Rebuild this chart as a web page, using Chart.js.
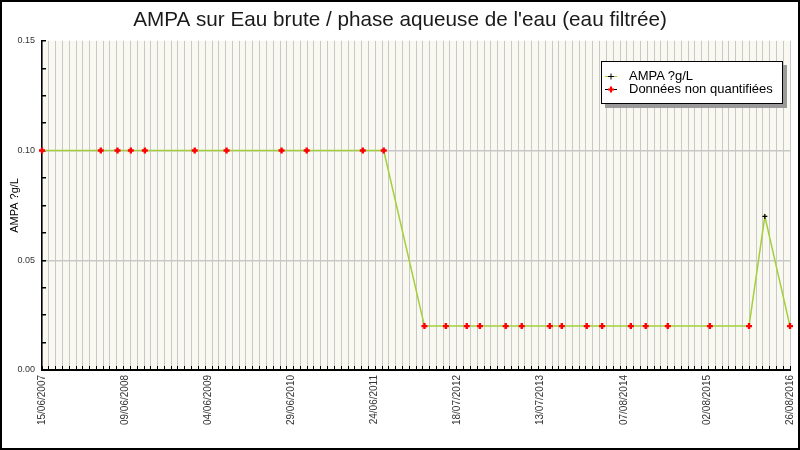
<!DOCTYPE html>
<html lang="fr">
<head>
<meta charset="utf-8">
<title>AMPA sur Eau brute</title>
<script src="https://cdn.jsdelivr.net/npm/chart.js@4/dist/chart.umd.min.js"></script>
<style>
  html, body { margin: 0; padding: 0; background: #fff; }
  #wrap { position: relative; width: 800px; height: 450px; }
  #legend {
    position: absolute; left: 601px; top: 61px; width: 180px; height: 40px;
    border: 1px solid #000; background: #fff; box-shadow: 4px 4px 0 #9a9a9a;
    font: 13px "Liberation Sans", sans-serif; color: #000; padding-top: 1px; box-sizing: content-box;
  }
  #legend div { height: 13px; line-height: 13px; margin-left: 3px; white-space: nowrap; }
  #legend div:first-child { margin-top: 6px; }
  #legend svg { vertical-align: -1px; margin-right: 12px; }
</style>
</head>
<body>
<div id="wrap">
  <canvas id="chart" width="800" height="450"></canvas>
  <div id="legend"></div>
</div>
<script>
// sampling dates and AMPA values
const sampleDates = [
  '2007-06-15','2008-03-05','2008-05-19','2008-07-18','2008-09-19','2009-05-01','2009-09-21',
  '2010-05-26','2010-09-16','2011-05-26','2011-08-28',
  '2012-02-27','2012-06-02','2012-09-04','2012-11-02','2013-02-26','2013-05-09','2013-09-12',
  '2013-11-05','2014-02-25','2014-05-05','2014-09-11','2014-11-17','2015-02-24','2015-09-01',
  '2016-02-24','2016-05-05','2016-08-26'
];
const ampaValues = [
  0.10, 0.10, 0.10, 0.10, 0.10, 0.10, 0.10,
  0.10, 0.10, 0.10, 0.10,
  0.02, 0.02, 0.02, 0.02, 0.02, 0.02, 0.02,
  0.02, 0.02, 0.02, 0.02, 0.02, 0.02, 0.02,
  0.02, 0.07, 0.02
];
// false = "Données non quantifiées"
const quantified = [
  false, false, false, false, false, false, false,
  false, false, false, false,
  false, false, false, false, false, false, false,
  false, false, false, false, false, false, false,
  false, true, false
];

const xTickLabels = ['15/06/2007','09/06/2008','04/06/2009','29/06/2010','24/06/2011',
                     '18/07/2012','13/07/2013','07/08/2014','02/08/2015','26/08/2016'];
const yTickLabels = ['0.00','0.05','0.10','0.15'];
const Y_MINOR = 4;        // minor ticks per labelled step
const X_GRID_STEPS = 110; // vertical grid lines

const GREEN = '#a3cf3a';
const RED = '#ff0000';

const toUTC = s => {
  const p = s.includes('/') ? s.split('/').reverse() : s.split('-');
  return Date.UTC(+p[0], +p[1] - 1, +p[2]);
};
const t0 = toUTC(xTickLabels[0]);
const span = (toUTC(xTickLabels[xTickLabels.length - 1]) - t0) / 86400000;
const dayOf = s => (toUTC(s) - t0) / 86400000;

const allPoints = sampleDates.map((d, i) => ({ x: dayOf(d), y: ampaValues[i] }));
const nqPoints = allPoints.filter((p, i) => !quantified[i]);

// x ticks: grid every X_GRID_STEPS, labels evenly spread
const xTicks = [];
for (let i = 0; i <= X_GRID_STEPS; i++) xTicks.push({ value: span * i / X_GRID_STEPS, grid: true });
xTickLabels.forEach((lab, i) => xTicks.push({ value: span * i / (xTickLabels.length - 1), lab }));
xTicks.sort((a, b) => a.value - b.value);

// y ticks: labelled ones plus minor ones between
const yVals = yTickLabels.map(Number);
const yMax = yVals[yVals.length - 1];
const yTicks = [];
yVals.forEach((v, i) => {
  yTicks.push({ value: v, lab: yTickLabels[i], big: true });
  if (i < yVals.length - 1) {
    for (let k = 1; k < Y_MINOR; k++) yTicks.push({ value: v + (yVals[i + 1] - v) * k / Y_MINOR });
  }
});
yTicks.sort((a, b) => a.value - b.value);

Chart.defaults.font.family = '"Liberation Sans", sans-serif';

const chart = new Chart(document.getElementById('chart'), {
  type: 'line',
  data: {
    datasets: [{
      label: 'AMPA ?g/L',
      data: allPoints,
      borderColor: GREEN,
      borderWidth: 1.5,
      tension: 0,
      pointStyle: 'cross',
      pointRadius: c => quantified[c.dataIndex] ? 2.5 : 0,
      pointBorderColor: '#000',
      pointBorderWidth: 1.2,
      clip: false,
      order: 2
    }, {
      label: 'Données non quantifiées',
      data: nqPoints,
      showLine: false,
      borderColor: '#000',
      pointStyle: 'cross',
      pointRadius: 3,
      pointBorderWidth: 2.4,
      pointBorderColor: RED,
      pointBackgroundColor: RED,
      clip: false,
      order: 1
    }]
  },
  options: {
    responsive: false,
    animation: false,
    layout: { padding: 0 },
    scales: {
      x: {
        type: 'linear',
        min: 0,
        max: span,
        afterBuildTicks: s => { s.ticks = xTicks.map(t => ({ ...t })); },
        afterFit: s => { s.height = 80; s.paddingLeft = 0; s.paddingRight = 10; },
        border: { color: '#000', width: 2 },
        grid: {
          color: c => c.tick && c.tick.grid ? '#c8c8c8' : 'transparent',
          tickColor: c => c.tick && c.tick.grid ? '#000' : 'transparent',
          tickLength: -4,
          lineWidth: 1
        },
        ticks: {
          autoSkip: false,
          minRotation: 90,
          maxRotation: 90,
          padding: 9,
          color: '#333',
          font: { size: 10 },
          callback: (v, i, t) => t[i].lab || ''
        }
      },
      y: {
        type: 'linear',
        min: 0,
        max: yMax,
        afterBuildTicks: s => { s.ticks = yTicks.map(t => ({ ...t })); },
        afterFit: s => { s.width = 42; s.paddingTop = 0; s.paddingBottom = 0; },
        border: { color: '#000', width: 1.5 },
        grid: {
          color: c => c.tick && c.tick.big && c.tick.value > 0 && c.tick.value < yMax ? '#c8c8c8' : 'transparent',
          tickColor: '#000',
          tickLength: -4,
          lineWidth: 1.5
        },
        ticks: {
          padding: 11,
          color: '#333',
          font: { size: 9 },
          callback: (v, i, t) => t[i].lab || ''
        },
        title: {
          display: true,
          text: 'AMPA ?g/L',
          color: '#000',
          font: { size: 11 },
          padding: { top: 8, bottom: 0 }
        }
      }
    },
    plugins: {
      legend: { display: false },
      tooltip: { enabled: false },
      title: {
        display: true,
        text: "AMPA sur Eau brute / phase aqueuse de l'eau (eau filtrée)",
        color: '#1a1a1a',
        font: { size: 20.7, weight: 'normal' },
        padding: { top: 8, bottom: 8 }
      }
    }
  },
  plugins: [{
    id: 'frameAndBackground',
    beforeDraw: c => {
      const ctx = c.ctx, a = c.chartArea;
      ctx.save();
      ctx.fillStyle = '#fff';
      ctx.fillRect(0, 0, c.width, c.height);
      ctx.fillStyle = '#f9f9f1';
      ctx.fillRect(a.left, a.top, a.right - a.left, a.bottom - a.top);
      ctx.restore();
    },
    afterDraw: c => {
      const ctx = c.ctx;
      ctx.save();
      ctx.strokeStyle = '#000';
      ctx.lineWidth = 2;
      ctx.strokeRect(1, 1, c.width - 2, c.height - 2);
      ctx.restore();
    }
  }]
});

// legend box inside the plot, built from the datasets
const legendLine = [GREEN, '#000'];
document.getElementById('legend').innerHTML = chart.data.datasets.map((ds, i) => {
  const pc = i === 0 ? '#000' : RED;
  const pw = i === 0 ? 1 : 2.2;
  return `<div><svg width="12" height="9"><line x1="0" y1="4.5" x2="12" y2="4.5" stroke="${legendLine[i]}" stroke-width="1"/>` +
    `<path d="M6 1.5v6M3 4.5h6" stroke="${pc}" stroke-width="${pw}"/></svg>${ds.label}</div>`;
}).join('');
</script>
</body>
</html>
